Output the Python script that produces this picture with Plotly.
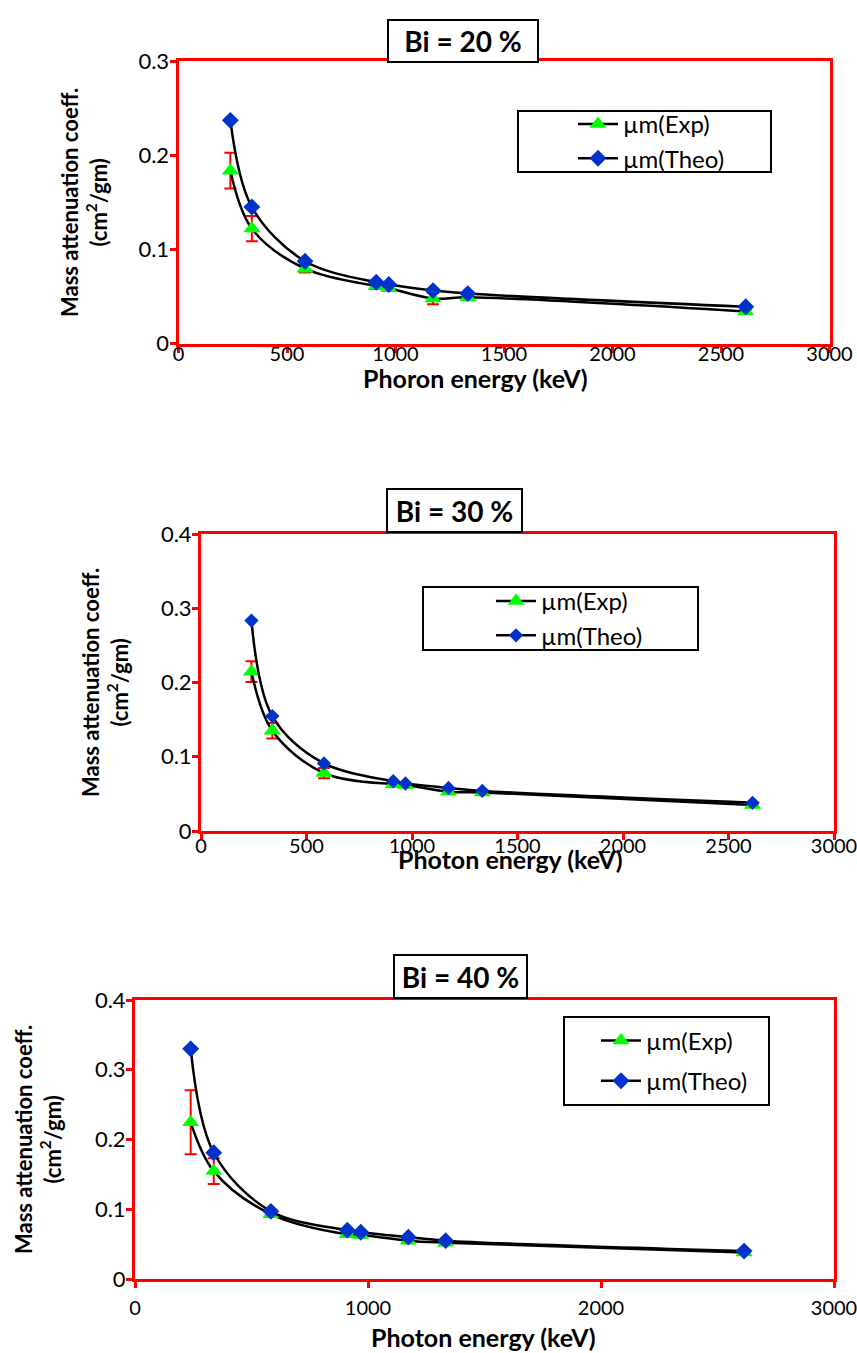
import plotly.graph_objects as go

W, H = 857, 1353
FONT = "Lato"

energy = [239, 338, 583, 911, 969, 1173, 1333, 2614]

exp_20 = [0.1835, 0.122, 0.0795, 0.061, 0.0587, 0.0477, 0.049, 0.034]
err_20 = [0.019, 0.0135, 0.004, 0.003, 0.003, 0.006, 0.003, 0.002]
theo_20 = [0.237, 0.145, 0.0873, 0.065, 0.0626, 0.0562, 0.053, 0.039]

exp_30 = [0.2146, 0.135, 0.078, 0.063, 0.062, 0.053, 0.052, 0.035]
err_30 = [0.014, 0.0105, 0.007, 0.003, 0.003, 0.003, 0.003, 0.002]
theo_30 = [0.2834, 0.1548, 0.091, 0.067, 0.064, 0.058, 0.054, 0.038]

exp_40 = [0.2247, 0.1547, 0.093, 0.064, 0.063, 0.055, 0.052, 0.038]
err_40 = [0.046, 0.0185, 0.004, 0.003, 0.003, 0.003, 0.003, 0.002]
theo_40 = [0.33, 0.181, 0.097, 0.070, 0.067, 0.060, 0.055, 0.040]

titles = ["Bi = 20 %", "Bi = 30 %", "Bi = 40 %"]
xtitles = ["Phoron energy (keV)", "Photon energy (keV)", "Photon energy (keV)"]
ytitle = "Mass attenuation coeff.<br>(cm<sup>2</sup>/gm)"
legend_names = ["µm(Exp)", "µm(Theo)"]


def px(x):
    return x / W


def py(y):
    return 1 - y / H


panels = [
    dict(exp=exp_20, err=err_20, theo=theo_20, xd=(178.5, 829.5), yd=(61, 343.5), yr=0.3,
         dx=500, box=(388, 538, 20, 62), xt=(475, 378), yt=(84, 203),
         leg=(518, 771, 111, 172), ltx=620, tlso=-16, gap=0, dsz=13),
    dict(exp=exp_30, err=err_30, theo=theo_30, xd=(201, 834), yd=(534, 831), yr=0.4,
         dx=500, box=(387, 522, 489, 532), xt=(510, 859), yt=(105, 683),
         leg=(423, 698, 587, 650), ltx=538, tlso=-11, gap=0, dsz=11),
    dict(exp=exp_40, err=err_40, theo=theo_40, xd=(135, 834), yd=(1000, 1279), yr=0.4,
         dx=1000, box=(394, 527, 955, 998), xt=(483, 1337), yt=(38, 1140),
         leg=(564, 769, 1017, 1105), ltx=643, tlso=3, gap=6, dsz=13),
]

fig = go.Figure()
annotations = []
shapes = []
layout = {}

for i, p in enumerate(panels):
    n = i + 1
    xa = "x" if n == 1 else f"x{n}"
    ya = "y" if n == 1 else f"y{n}"
    lg = "legend" if n == 1 else f"legend{n}"
    fig.add_trace(go.Scatter(
        x=energy, y=p["exp"], xaxis=xa, yaxis=ya, name=legend_names[0],
        mode="lines+markers", line=dict(color="black", width=2.5, shape="spline"),
        marker=dict(symbol="triangle-up", size=15, color="#00FF00"),
        error_y=dict(type="data", array=p["err"], visible=True, color="#FF0000",
                     thickness=2, width=6),
        legend=lg, legendgroup=f"e{n}"))
    fig.add_trace(go.Scatter(
        x=energy, y=p["theo"], xaxis=xa, yaxis=ya, name=legend_names[1],
        mode="lines+markers", line=dict(color="black", width=2.5, shape="spline"),
        marker=dict(symbol="diamond", size=p["dsz"], color="#0033CC"),
        legend=lg, legendgroup=f"t{n}"))

    axis_common = dict(showgrid=False, zeroline=False, showline=True, linecolor="#FF0000",
                       linewidth=3, mirror=True, ticks="outside", tickcolor="#FF0000",
                       tickwidth=3, ticklen=6, ticklabeloverflow="allow")
    layout[f"xaxis{'' if n == 1 else n}"] = dict(
        domain=[px(p["xd"][0]), px(p["xd"][1])], range=[0, 3000], dtick=p["dx"], tick0=0,
        anchor=ya, ticklabelstandoff=p["tlso"],
        tickfont=dict(family=FONT, size=20, color="black"), **axis_common)
    layout[f"yaxis{'' if n == 1 else n}"] = dict(
        domain=[py(p["yd"][1]), py(p["yd"][0])], range=[0, p["yr"]], dtick=0.1, tick0=0,
        anchor=xa, ticklabelstandoff=-4,
        tickfont=dict(family=FONT, size=22, color="black"), **axis_common)

    # title box
    bx0, bx1, by0, by1 = p["box"]
    annotations.append(dict(
        text=f"<b>{titles[i]}</b>", x=px((bx0 + bx1) / 2), y=py((by0 + by1) / 2),
        xref="paper", yref="paper", showarrow=False, xanchor="center", yanchor="middle",
        font=dict(family=FONT, size=28, color="black"), bgcolor="white",
        bordercolor="black", borderwidth=2, width=bx1 - bx0 - 4, height=by1 - by0 - 4))
    # axis titles
    annotations.append(dict(
        text=f"<b>{xtitles[i]}</b>", x=px(p["xt"][0]), y=py(p["xt"][1]),
        xref="paper", yref="paper", showarrow=False, xanchor="center", yanchor="middle",
        font=dict(family=FONT, size=25, color="black")))
    annotations.append(dict(
        text=f"<b>{ytitle}</b>", x=px(p["yt"][0]), y=py(p["yt"][1]), textangle=-90,
        xref="paper", yref="paper", showarrow=False, xanchor="center", yanchor="middle",
        font=dict(family=FONT, size=22, color="black")))
    # legend box
    lx0, lx1, ly0, ly1 = p["leg"]
    shapes.append(dict(type="rect", xref="paper", yref="paper",
                       x0=px(lx0), x1=px(lx1), y0=py(ly1), y1=py(ly0),
                       line=dict(color="black", width=2), fillcolor="white", layer="below"))
    layout[lg] = dict(x=px(p["ltx"] - 47), y=py((ly0 + ly1) / 2), xanchor="left", yanchor="middle",
                      bgcolor="rgba(0,0,0,0)", borderwidth=0, tracegroupgap=p["gap"],
                      font=dict(family=FONT, size=24, color="black"), itemwidth=40)

fig.update_layout(
    width=W, height=H, margin=dict(l=0, r=0, t=0, b=0, autoexpand=False),
    paper_bgcolor="white", plot_bgcolor="white", showlegend=True,
    annotations=annotations, shapes=shapes, **layout)

fig.write_html("out.html", config={"displayModeBar": False},
               post_script="document.body.style.margin='0';")
